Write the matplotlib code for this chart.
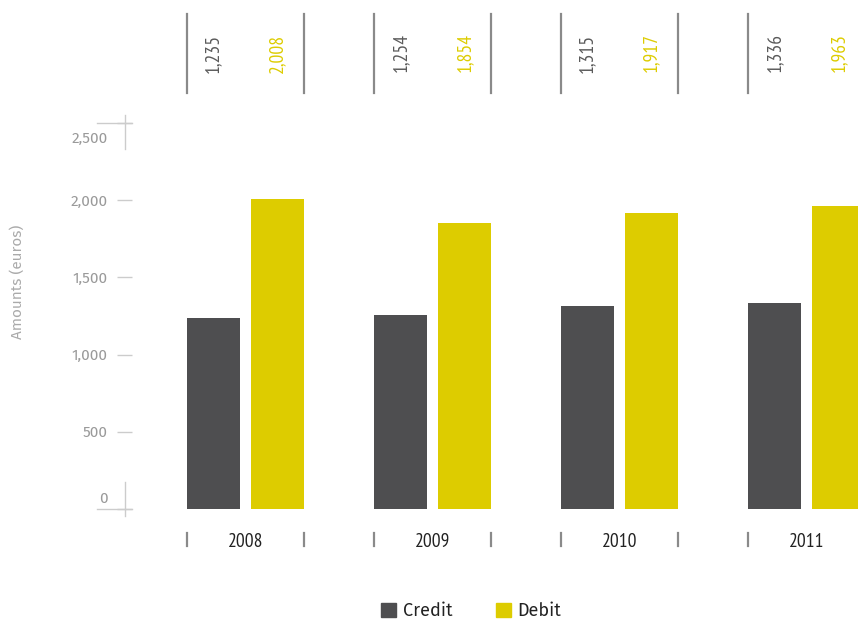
import numpy as np
import matplotlib
matplotlib.use("Agg")
import matplotlib.pyplot as plt
from matplotlib import font_manager
from matplotlib.patches import Patch
from matplotlib.lines import Line2D
import matplotlib.transforms as mtransforms

years = ["2008", "2009", "2010", "2011"]
credit = [1235, 1254, 1315, 1336]
debit = [2008, 1854, 1917, 1963]
credit_labels = ["1,235", "1,254", "1,315", "1,336"]
debit_labels = ["2,008", "1,854", "1,917", "1,963"]
yticks = [0, 500, 1000, 1500, 2000, 2500]
ytick_labels = ["0", "500", "1,000", "1,500", "2,000", "2,500"]

CREDIT_COL = "#4e4e50"
DEBIT_COL = "#ddcc00"
GRAY = "#8a8a8a"
LIGHT = "#cccccc"

names = {f.name for f in font_manager.fontManager.ttflist}

def pick(prefs):
    return next((p for p in prefs if p in names), "DejaVu Sans")

# narrow face for the figures, plain and light faces for the rest
NARROW = pick(["PT Sans Narrow", "Fira Sans Condensed", "Roboto Condensed", "Asap Condensed",
               "Encode Sans Condensed", "Liberation Sans Narrow"])
LIGHTF = pick(["Fira Sans Light", "Open Sans Light", "Lato Light", "Fira Sans", "Open Sans"])
PLAIN = pick(["Fira Sans", "Open Sans", "Lato"])
plt.rcParams["font.family"] = [NARROW, "DejaVu Sans"]

W, H = 858, 624
fig = plt.figure(figsize=(W / 100, H / 100), dpi=100)

def px(x, y):
    # pixel position from top-left -> figure fraction
    return x / W, 1 - y / H

# plot area: value 0 at y=509, 2500 at y=123; left edge at x=132
ax_left, ax_right, ax_top, ax_bot = 132, 858, 123, 509
ax = fig.add_axes([ax_left / W, 1 - ax_bot / H, (ax_right - ax_left) / W, (ax_bot - ax_top) / H])

step = 187.0
c0 = 245.5
x = np.arange(len(years))
width = 53 / step
off = 32 / step
ax.bar(x - off, credit, width, color=CREDIT_COL, zorder=2)
ax.bar(x + off, debit, width, color=DEBIT_COL, zorder=2)

ax.set_xlim((ax_left - c0) / step, (ax_right - c0) / step)
ax.set_ylim(0, 2500)
for s in ax.spines.values():
    s.set_visible(False)
ax.patch.set_alpha(0)

ax.set_yticks(yticks)
ax.set_yticklabels(ytick_labels, family=[LIGHTF, "DejaVu Sans"])
ax.tick_params(axis="y", length=11, width=1, color=LIGHT, pad=6.5,
               labelsize=11, labelcolor="#9a9a9a")
# end labels sit inside the crosses
ylabs = ax.get_yticklabels()
ylabs[0].set_transform(ylabs[0].get_transform() + mtransforms.ScaledTranslation(0, 12 / 100, fig.dpi_scale_trans))
ylabs[-1].set_transform(ylabs[-1].get_transform() + mtransforms.ScaledTranslation(0, -14 / 100, fig.dpi_scale_trans))

ax.set_xticks(x)
ax.set_xticklabels(years)
ax.tick_params(axis="x", length=0, pad=17, labelsize=14, labelcolor="#222222")

# axis crosses at 0 and at the top
ff = fig.transFigure
for (hx0, hx1, hy), (vx, vy0, vy1) in [((97, 132, 509), (125, 482, 516)),
                                        ((97, 132, 123), (125, 115, 149))]:
    a, b = px(hx0, hy), px(hx1, hy)
    fig.add_artist(Line2D([a[0], b[0]], [a[1], b[1]], transform=ff, color=LIGHT, lw=1))
    a, b = px(vx, vy0), px(vx, vy1)
    fig.add_artist(Line2D([a[0], b[0]], [a[1], b[1]], transform=ff, color=LIGHT, lw=1))

# group brackets above and below the bars, value labels on top
blend = mtransforms.blended_transform_factory(ax.transData, ff)
for i in range(len(years)):
    for e in (i - (c0 - 187) / step, i + (304 - c0) / step):
        ax.plot([e, e], [px(0, 14)[1], px(0, 93)[1]], transform=blend, color=GRAY,
                lw=1.6, clip_on=False)
        ax.plot([e, e], [px(0, 533)[1], px(0, 546)[1]], transform=blend, color=GRAY,
                lw=1.6, clip_on=False)
    ax.text(i - off, px(0, 53)[1], credit_labels[i], transform=blend, rotation=90,
            ha="center", va="center", fontsize=14, color="#5a5a5a")
    ax.text(i + off, px(0, 53)[1], debit_labels[i], transform=blend, rotation=90,
            ha="center", va="center", fontsize=14, color=DEBIT_COL)

lx, ly = px(17, 282)
fig.text(lx, ly, "Amounts (euros)", rotation=90, ha="center", va="center",
         fontsize=11, color="#aaaaaa", family=[LIGHTF, "DejaVu Sans"])

handles = [Patch(color=CREDIT_COL, label="Credit"), Patch(color=DEBIT_COL, label="Debit")]
bx, by = px(471, 611)
fig.legend(handles=handles, loc="center", bbox_to_anchor=(bx, by), ncol=2, frameon=False,
           prop={"family": [PLAIN, "DejaVu Sans"], "size": 13}, handlelength=0.85,
           handleheight=0.85, handletextpad=0.35, columnspacing=2.4, labelcolor="#222222")

fig.savefig("out.png", dpi=100)
